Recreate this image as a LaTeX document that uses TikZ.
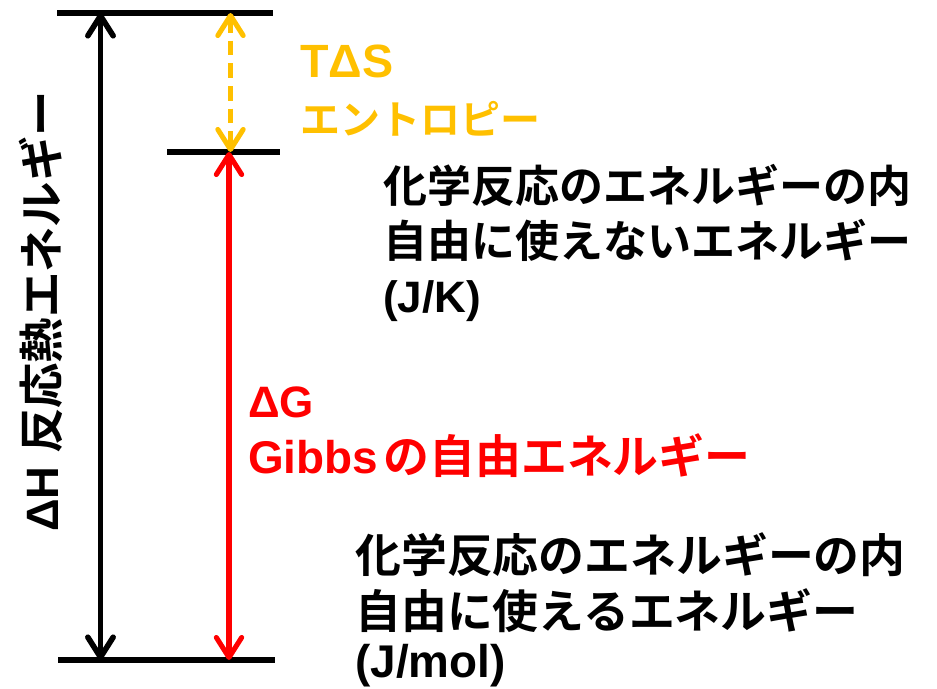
\documentclass[tikz,border=0pt]{standalone}
\usepackage{fontspec}
\setmainfont{Liberation Sans}
\newfontfamily\jpf{Noto Sans CJK JP}[BoldFont={* Bold}]
\usetikzlibrary{arrows.meta}
\definecolor{ora}{HTML}{FFC000}
\definecolor{rd}{HTML}{FF0000}
\newcommand\jt[1]{{\jpf\bfseries #1}}
\begin{document}
\begin{tikzpicture}[x=0.75pt,y=-0.75pt,
  txt/.style={inner sep=0pt, anchor=base west, font=\bfseries\fontsize{33}{40}\selectfont},
  big/.style={font=\bfseries\fontsize{34.4}{40}\selectfont},
  level/.style={line width=4.5pt},
  arr/.style={line width=4.2pt, {Straight Barb[length=15pt,width=19pt,round]}-{Straight Barb[length=15pt,width=19pt,round]}}]
\useasboundingbox (0,0) rectangle (937,688);
% levels
\coordinate (t1) at (57,13);  \coordinate (t2) at (273,13);
\coordinate (m1) at (167,152); \coordinate (m2) at (280,152);
\coordinate (b1) at (58,660); \coordinate (b2) at (275,660);
\draw[level] (t1) -- (t2);
\draw[level] (m1) -- (m2);
\draw[level] (b1) -- (b2);
% arrows
\coordinate (hA) at (100.5,13); \coordinate (hB) at (100.5,660);
\coordinate (sA) at (230.5,13); \coordinate (sB) at (230.5,152);
\coordinate (gA) at (229,152);  \coordinate (gB) at (229,660);
\draw[arr] (hA) -- (hB);
\draw[arr, ora, line width=3.8pt, dash pattern=on 11pt off 6pt] (sA) -- (sB);
\draw[arr, rd, line width=3.8pt] (gA) -- (gB);
% vertical label
\node[txt, rotate=90, font=\bfseries\fontsize{34}{40}\selectfont] (vh) at (58,532) {ΔH \jt{反応熱エネルギー}};
% T dS
\node[txt, ora, font=\bfseries\fontsize{35}{40}\selectfont] (ts1) at (300,78) {TΔS};
\node[txt, ora, font=\bfseries\fontsize{30}{36}\selectfont] (ts2) at (300,135) {\jt{エントロピー}};
% block 1
\node[txt] (u1) at (383,202) {\jt{化学反応のエネルギーの内}};
\node[txt] (u2) at (383,257) {\jt{自由に使えないエネルギー}};
\node[txt] (u3) at (383,312) {(J/K)};
% Gibbs
\node[txt, rd] (g1) at (248,417) {ΔG};
\node[txt, rd, big] (g2) at (248,473) {Gibbs\hspace{4pt}\jt{の自由エネルギー}};
% block 2
\node[txt, big] (f1) at (355,572) {\jt{化学反応のエネルギーの内}};
\node[txt, big] (f2) at (355,628) {\jt{自由に使えるエネルギー}};
\node[txt, big] (f3) at (355,677) {(J/mol)};
\end{tikzpicture}
\end{document}
